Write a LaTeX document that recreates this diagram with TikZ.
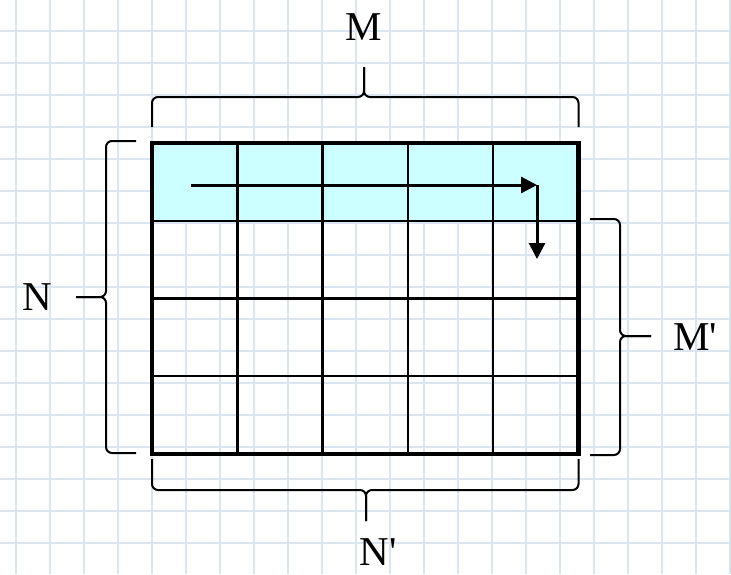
\documentclass[tikz,border=0pt]{standalone}
\usepackage{fontspec}
\setmainfont{Liberation Serif}
\usepackage{tikz}
\usetikzlibrary{arrows.meta, calc}
\usepackage{xcolor}
\definecolor{carta}{RGB}{218,229,241}
\definecolor{riga}{RGB}{204,255,255}

\begin{document}
\begin{tikzpicture}[x=0.5pt, y=-0.5pt, font=\fontsize{20.5}{24}\selectfont]
    % Parametri
    \pgfmathsetmacro{\xa}{152}
    \pgfmathsetmacro{\ya}{143}
    \pgfmathsetmacro{\lc}{85.3}
    \pgfmathsetmacro{\hc}{77.75}
    \pgfmathsetmacro{\xb}{\xa+5*\lc}
    \pgfmathsetmacro{\yb}{\ya+4*\hc}
    % Foglio a quadretti
    \fill[white] (0,0) rectangle (731,574);
    \useasboundingbox (0,0) rectangle (731,574);
    \foreach \k in {0,...,21}{
        \draw[carta, line width=1.1pt] ({15.7+34*\k},0) -- ({15.7+34*\k},574);
    }
    \foreach \k in {0,...,16}{
        \draw[carta, line width=1.1pt] (0,{30.7+32*\k}) -- (731,{30.7+32*\k});
    }
    % Tabella
    \coordinate (A) at (\xa,\ya);
    \coordinate (B) at (\xb,\yb);
    \fill[riga] (A) rectangle (\xb,{\ya+\hc});
    \foreach \i in {1,...,4}{
        \draw[line width=1.2pt] ({\xa+\i*\lc},\ya) -- ({\xa+\i*\lc},\yb);
    }
    \foreach \j in {1,2,3}{
        \draw[line width=1.2pt] (\xa,{\ya+\j*\hc}) -- (\xb,{\ya+\j*\hc});
    }
    \draw[line width=2.2pt] (A) rectangle (B);
    % Frecce
    \coordinate (inizio) at (191,185);
    \coordinate (svolta) at (537,185);
    \coordinate (fine) at (537,259);
    \draw[line width=1.5pt, -{Triangle[length=8pt,width=8pt]}] (inizio) -- (svolta);
    \draw[line width=1.5pt, -{Triangle[length=8pt,width=8pt]}] (svolta) -- (fine);
    % Parentesi
    \coordinate (pM) at (364,67);
    \coordinate (pN) at (76,297);
    \coordinate (pMM) at (651,336);
    \coordinate (pNN) at (366,521);
    \begin{scope}[line width=1pt, rounded corners=3pt]
        \draw (\xa,127) |- (364,97) -- (pM);
        \draw (\xb,127) |- (364,97) -- (pM);
        \draw (136,141) -| (106,297) -- (pN);
        \draw (136,453) -| (106,297) -- (pN);
        \draw (590,219) -| (620,336) -- (pMM);
        \draw (590,455) -| (620,336) -- (pMM);
        \draw (\xa,459) |- (366,490) -- (pNN);
        \draw (\xb,459) |- (366,490) -- (pNN);
    \end{scope}
    % Etichette
    \node (M) at (364,27) {M};
    \node (N) at (37,297) {N};
    \node (MM) at (695,337) {M\textquotesingle};
    \node (NN) at (378,552) {N\textquotesingle};
\end{tikzpicture}
\end{document}
